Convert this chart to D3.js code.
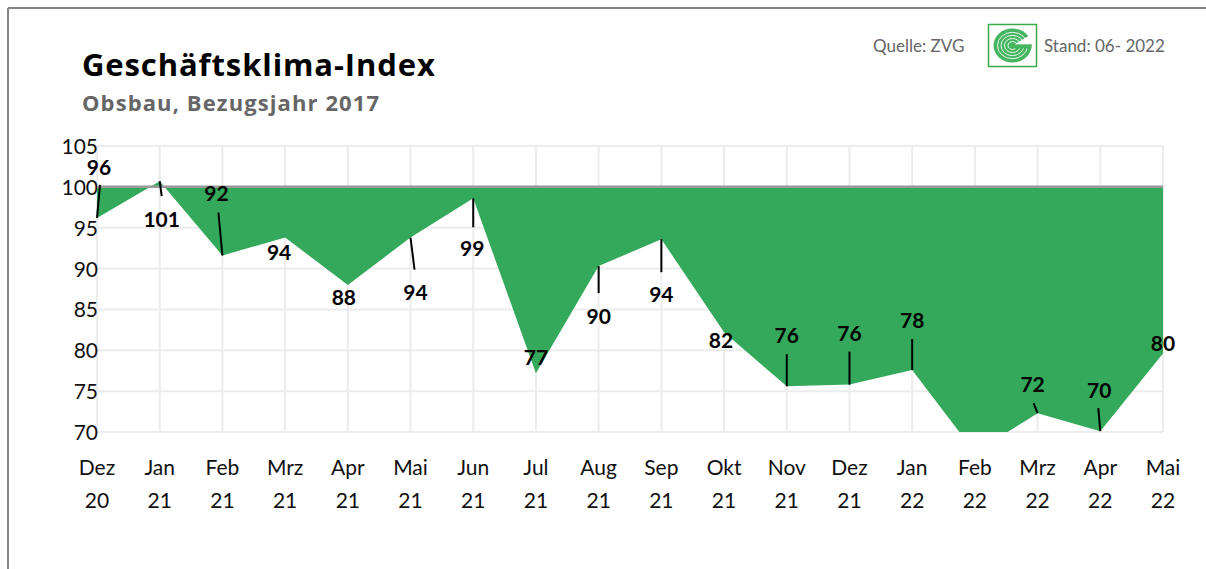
<!DOCTYPE html>
<html>
<head>
<meta charset="utf-8">
<script src="https://cdn.jsdelivr.net/npm/d3@7"></script>
<style>
  body { margin: 0; background: #fff; }
  svg { display: block; }
  text { font-family: "Lato", "Open Sans", sans-serif; }
</style>
</head>
<body>
<div id="chart"></div>
<script>
// data
var months = ["Dez", "Jan", "Feb", "Mrz", "Apr", "Mai", "Jun", "Jul", "Aug", "Sep", "Okt", "Nov", "Dez", "Jan", "Feb", "Mrz", "Apr", "Mai"];
var years  = ["20", "21", "21", "21", "21", "21", "21", "21", "21", "21", "21", "21", "21", "22", "22", "22", "22", "22"];
var values = [96.2, 100.7, 91.6, 93.8, 88.0, 93.8, 98.6, 77.2, 90.3, 93.6, 82.2, 75.6, 75.8, 77.6, 67.5, 72.3, 70.1, 79.6];
var yTicks = [70, 75, 80, 85, 90, 95, 100, 105];

// label placement: [dx, dy, leader end dx, leader end dy] (null = no leader)
var labelPlace = [
  [2, -43, 3, -33], [2, 46, 2, 15], [-6, -54, -4, -43], [-6, 22, null, null],
  [-4, 20, null, null], [5, 62, 4, 32], [-1, 58, 0, 29], [0, -8, null, null],
  [0, 58, 0, 27], [0, 63, 0, 33], [-3, 16, null, null], [0, -43, 0, -32],
  [0, -44, 0, -33], [0, -42, 0, -31], [0, 0, null, null], [-5, -21, -4, -10],
  [-1, -33, -2, -23], [0, -3, null, null]
];

var W = 1206, H = 569;
var svg = d3.select("#chart").append("svg")
  .attr("width", W)
  .attr("height", H);

// frame
svg.append("line").attr("x1", 8).attr("x2", W).attr("y1", 8).attr("y2", 8)
  .attr("stroke", "#858585").attr("stroke-width", 2);
svg.append("line").attr("x1", 8).attr("x2", 8).attr("y1", 8).attr("y2", H)
  .attr("stroke", "#858585").attr("stroke-width", 2);

// titles
svg.append("text").attr("x", 82).attr("y", 76)
  .text("Geschäftsklima-Index")
  .style("font-family", "'Open Sans', sans-serif")
  .style("letter-spacing", "0.9px")
  .attr("font-weight", "bold").attr("font-size", "31px").attr("fill", "#000");
svg.append("text").attr("x", 82).attr("y", 111)
  .text("Obsbau, Bezugsjahr 2017")
  .style("font-family", "'Open Sans', sans-serif")
  .style("letter-spacing", "1.1px")
  .attr("font-weight", "bold").attr("font-size", "22px").attr("fill", "#666");

svg.append("text").attr("x", 873).attr("y", 52)
  .text("Quelle: ZVG")
  .attr("font-size", "17px").attr("fill", "#666");
svg.append("text").attr("x", 1044).attr("y", 52)
  .text("Stand: 06- 2022")
  .attr("font-size", "17px").attr("fill", "#666");

// logo
var logo = svg.append("g").attr("transform", "translate(988,24)");
logo.append("rect").attr("x", 0.5).attr("y", 0.5).attr("width", 48).attr("height", 42)
  .attr("fill", "#fff").attr("stroke", "#3aaa4a").attr("stroke-width", 1.5);
var sw = logo.append("g").attr("transform", "translate(24.5,21.5)");
sw.append("ellipse").attr("rx", 19).attr("ry", 17).attr("fill", "#45b560");
[15, 11.5, 8, 4.5].forEach(function (r) {
  sw.append("ellipse").attr("rx", r).attr("ry", r * 0.88)
    .attr("fill", "none").attr("stroke", "#fff").attr("stroke-width", 0.9);
});
sw.append("path").attr("d", "M2,-1 L20,-12 L20,-1 Z").attr("fill", "#fff");
sw.append("rect").attr("x", 2).attr("y", -1).attr("width", 17).attr("height", 4).attr("fill", "#45b560");

// scales
var x = d3.scalePoint().domain(d3.range(months.length)).range([97, 1163]);
var y = d3.scaleLinear().domain([70, 105]).range([432, 146]);

// grid
svg.append("g").selectAll("line").data(yTicks).join("line")
  .attr("x1", 97).attr("x2", 1163)
  .attr("y1", function (d) { return y(d); }).attr("y2", function (d) { return y(d); })
  .attr("stroke", "#ececec").attr("stroke-width", 2);
svg.append("g").selectAll("line").data(d3.range(months.length)).join("line")
  .attr("x1", function (d) { return x(d); }).attr("x2", function (d) { return x(d); })
  .attr("y1", y(105)).attr("y2", y(70))
  .attr("stroke", "#ececec").attr("stroke-width", 2);

// y axis labels
svg.append("g").selectAll("text").data(yTicks).join("text")
  .attr("x", 98).attr("y", function (d) { return y(d) + 8; })
  .attr("text-anchor", "end")
  .attr("font-size", "21px").attr("fill", "#111")
  .text(function (d) { return d; });

// x axis labels
var xl = svg.append("g").selectAll("text").data(months).join("text")
  .attr("text-anchor", "middle")
  .attr("font-size", "21px").attr("fill", "#111");
xl.append("tspan").attr("x", function (d, i) { return x(i); }).attr("y", 475)
  .text(function (d) { return d; });
xl.append("tspan").attr("x", function (d, i) { return x(i); }).attr("y", 508)
  .text(function (d, i) { return years[i]; });

// area between 100 and value
svg.append("clipPath").attr("id", "plotClip")
  .append("rect").attr("x", 90).attr("y", y(105)).attr("width", 1080).attr("height", y(70) - y(105));

var area = d3.area()
  .x(function (d, i) { return x(i); })
  .y0(y(100))
  .y1(function (d) { return y(d); });

svg.append("path").datum(values)
  .attr("d", area)
  .attr("fill", "#35a95b")
  .attr("clip-path", "url(#plotClip)");

// reference line at 100
svg.append("line").attr("x1", 97).attr("x2", 1163).attr("y1", y(100)).attr("y2", y(100))
  .attr("stroke", "#999").attr("stroke-width", 2.5);

// data labels
var shown = d3.range(values.length).filter(function (i) { return values[i] >= 70; });

svg.append("g").selectAll("line").data(shown.filter(function (i) { return labelPlace[i][2] !== null; }))
  .join("line")
  .attr("x1", function (i) { return x(i); })
  .attr("y1", function (i) { return y(values[i]); })
  .attr("x2", function (i) { return x(i) + labelPlace[i][2]; })
  .attr("y2", function (i) { return y(values[i]) + labelPlace[i][3]; })
  .attr("stroke", "#000").attr("stroke-width", 2);

svg.append("g").selectAll("text").data(shown).join("text")
  .attr("x", function (i) { return x(i) + labelPlace[i][0]; })
  .attr("y", function (i) { return y(values[i]) + labelPlace[i][1]; })
  .attr("text-anchor", "middle")
  .attr("font-weight", "bold").attr("font-size", "21px").attr("fill", "#000")
  .text(function (i) { return Math.round(values[i]); });
</script>
</body>
</html>
